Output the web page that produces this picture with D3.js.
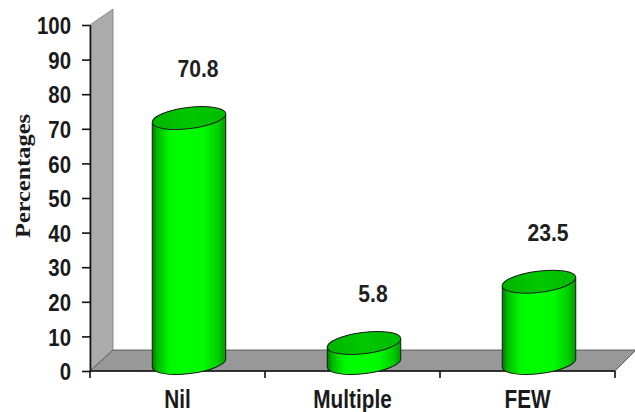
<!DOCTYPE html>
<html>
<head>
<meta charset="utf-8">
<script src="https://cdn.jsdelivr.net/npm/d3@7"></script>
<style>
  html, body { margin: 0; padding: 0; background: #fff; }
  svg { display: block; }
  .num { font-family: "Liberation Sans", Arial, sans-serif; font-weight: bold; }
</style>
</head>
<body>
<svg id="chart" width="635" height="412"></svg>
<script>
// Chart data
const categories = ["Nil", "Multiple", "FEW"];
const percentages = [70.8, 5.8, 23.5];
const valueLabels = ["70.8", "5.8", "23.5"];
const yTicks = [0, 10, 20, 30, 40, 50, 60, 70, 80, 90, 100];
const yTitle = "Percentages";

const plotLeft = 90, plotRight = 615, plotBottom = 371, plotTop = 25;
// depth of the 3D floor / wall
const depthX = 23, depthY = 21;
const wallTopRise = 16;
// cylinders stand on the middle of the floor depth
const barDX = 11.5, barDY = 8;
const rx = 37, ry = 10.6, tilt = -7;
// horizontal squeeze that gives the bold sans a narrow look
const narrow = 0.85;

const svg = d3.select("#chart");

const x = d3.scaleBand().domain(categories).range([plotLeft, plotRight]).padding(0);
const y = d3.scaleLinear().domain([0, 100]).range([plotBottom, plotTop]);

// draw a text squeezed horizontally around its anchor point
function narrowText(sel, tx, ty, sx) {
  sel.attr("x", 0).attr("y", 0)
    .attr("transform", `translate(${tx},${ty}) scale(${sx},1)`);
}

// gradients
const defs = svg.append("defs");
const body = defs.append("linearGradient").attr("id", "bodyGrad")
  .attr("x1", "0%").attr("x2", "100%").attr("y1", "0%").attr("y2", "0%");
[[0, "#007a00"], [0.07, "#00b800"], [0.22, "#00f400"], [0.35, "#00ff00"],
 [0.7, "#00fa00"], [0.9, "#00cc00"], [1, "#009a00"]]
  .forEach(([o, c]) => body.append("stop").attr("offset", o).attr("stop-color", c));
const cap = defs.append("linearGradient").attr("id", "capGrad")
  .attr("x1", "0%").attr("x2", "100%").attr("y1", "0%").attr("y2", "0%");
[[0, "#00b400"], [0.5, "#00c800"], [1, "#00bb00"]]
  .forEach(([o, c]) => cap.append("stop").attr("offset", o).attr("stop-color", c));

// back wall
svg.append("path")
  .attr("d", `M${plotLeft},${y(100)} L${plotLeft + depthX},${y(100) - wallTopRise} L${plotLeft + depthX},${plotBottom - depthY} L${plotLeft},${plotBottom} Z`)
  .attr("fill", "#ababab").attr("stroke", "#7a7a7a").attr("stroke-width", 0.8);

// floor
svg.append("path")
  .attr("d", `M${plotLeft},${plotBottom} L${plotLeft + depthX},${plotBottom - depthY} L${plotRight + depthX - 2},${plotBottom - depthY} L${plotRight},${plotBottom} Z`)
  .attr("fill", "#989898").attr("stroke", "#555").attr("stroke-width", 0.9);

// y axis
const yAxis = d3.axisLeft(y).tickValues(yTicks).tickSize(8).tickSizeOuter(0).tickPadding(11);
const gy = svg.append("g").attr("transform", `translate(${plotLeft},0)`).call(yAxis);
gy.select(".domain").attr("stroke", "#111").attr("stroke-width", 1.6);
gy.selectAll(".tick line").attr("stroke", "#111").attr("stroke-width", 1.6);
gy.selectAll(".tick text").each(function () {
  const t = d3.select(this);
  const tx = +t.attr("x");
  t.attr("class", "num").attr("font-size", 24).attr("fill", "#1a1a1a").attr("dy", "0.36em");
  narrowText(t, tx, 0, narrow);
});

// x axis: line with ticks at category boundaries, labels under band centres
const edges = categories.map(c => x(c)).concat([x(categories[categories.length - 1]) + x.bandwidth()]);
svg.append("line").attr("x1", plotLeft).attr("x2", plotRight).attr("y1", plotBottom).attr("y2", plotBottom)
  .attr("stroke", "#111").attr("stroke-width", 1.6);
svg.selectAll(".xtick").data(edges).enter().append("line")
  .attr("x1", d => d).attr("x2", d => d).attr("y1", plotBottom).attr("y2", plotBottom + 7)
  .attr("stroke", "#111").attr("stroke-width", 1.6);
svg.selectAll(".xlab").data(categories).enter().append("text")
  .attr("class", "num")
  .attr("text-anchor", "middle").attr("font-size", 25).attr("fill", "#1a1a1a")
  .text(d => d)
  .each(function (d) { narrowText(d3.select(this), x(d) + x.bandwidth() / 2, 408, 0.83); });

// y title
svg.append("text")
  .attr("transform", `translate(30,176) rotate(-90)`)
  .attr("text-anchor", "middle")
  .attr("font-family", "'Liberation Serif', 'Times New Roman', serif")
  .attr("font-weight", "bold").attr("font-size", 21).attr("fill", "#1a1a1a")
  .attr("textLength", 124).attr("lengthAdjust", "spacingAndGlyphs")
  .text(yTitle);

// cylinders
const th = tilt * Math.PI / 180;
const tt = Math.atan2(-ry * Math.sin(th), rx * Math.cos(th));
const xe = Math.abs(rx * Math.cos(tt) * Math.cos(th) - ry * Math.sin(tt) * Math.sin(th));
// vertical offset of the right-hand tangent point
const yr = rx * Math.cos(tt) * Math.sin(th) + ry * Math.sin(tt) * Math.cos(th);

const bars = svg.selectAll(".bar").data(categories.map((c, i) => ({ c, v: percentages[i], label: valueLabels[i] })))
  .enter().append("g")
  .attr("transform", d => `translate(${x(d.c) + x.bandwidth() / 2 + barDX},0)`);

bars.each(function (d) {
  const g = d3.select(this);
  const base = y(0) - barDY;
  const topY = y(d.v) - barDY;
  // bottom cap
  g.append("ellipse").attr("cx", 0).attr("cy", 0).attr("rx", rx).attr("ry", ry)
    .attr("transform", `translate(0,${base}) rotate(${tilt})`)
    .attr("fill", "url(#bodyGrad)").attr("stroke", "#1a1a1a").attr("stroke-width", 1);
  // body
  g.append("path")
    .attr("d", `M${-xe},${topY - yr} L${-xe},${base - yr} L${xe},${base + yr} L${xe},${topY + yr} Z`)
    .attr("fill", "url(#bodyGrad)");
  g.append("line").attr("x1", -xe).attr("x2", -xe).attr("y1", topY - yr).attr("y2", base - yr)
    .attr("stroke", "#1a1a1a").attr("stroke-width", 1);
  g.append("line").attr("x1", xe).attr("x2", xe).attr("y1", topY + yr).attr("y2", base + yr)
    .attr("stroke", "#1a1a1a").attr("stroke-width", 1);
  // top cap
  g.append("ellipse").attr("cx", 0).attr("cy", 0).attr("rx", rx).attr("ry", ry)
    .attr("transform", `translate(0,${topY}) rotate(${tilt})`)
    .attr("fill", "url(#capGrad)").attr("stroke", "#1a1a1a").attr("stroke-width", 1);
  // value label
  const lab = g.append("text").attr("class", "num")
    .attr("text-anchor", "middle").attr("font-size", 24).attr("fill", "#1f1f1f")
    .text(d.label);
  narrowText(lab, 9, topY - 41, 0.88);
});
</script>
</body>
</html>
